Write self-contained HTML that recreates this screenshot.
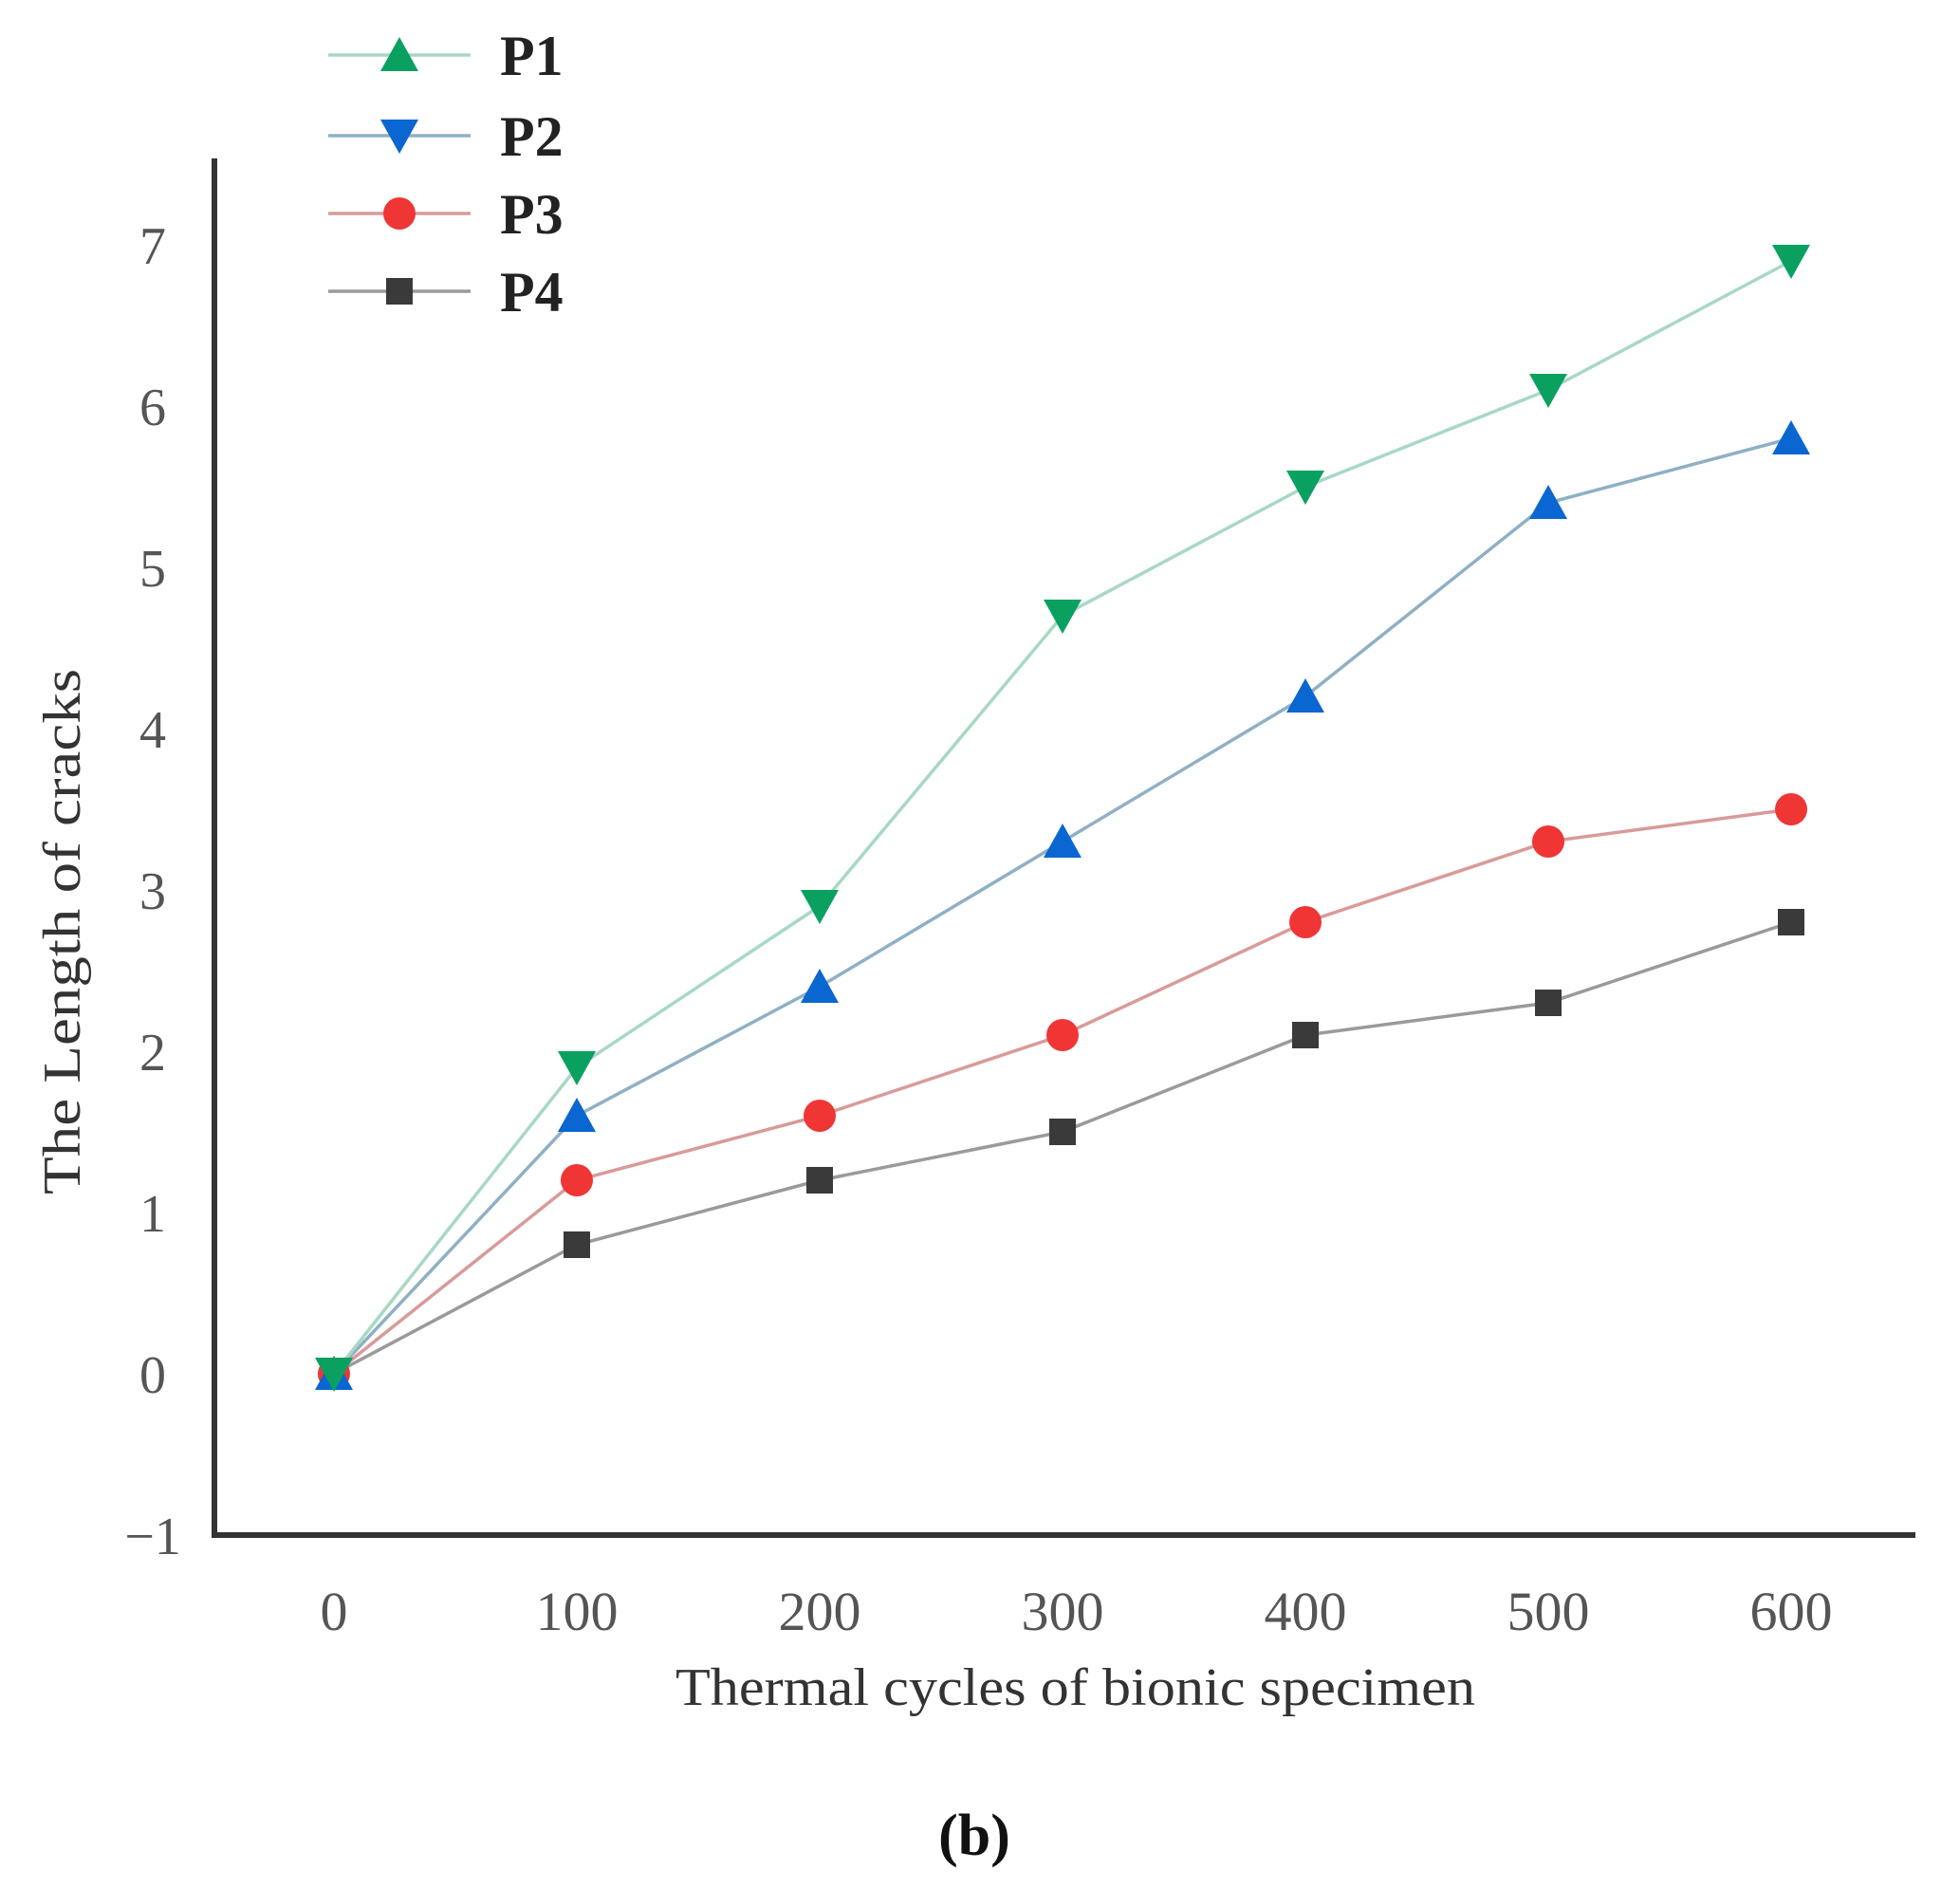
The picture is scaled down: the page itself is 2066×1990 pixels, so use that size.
<!DOCTYPE html>
<html><head><meta charset="utf-8"><style>
html,body{margin:0;padding:0;background:#fff;}
svg{display:block;}
text{font-family:"Liberation Serif",serif;}
</style></head><body>
<svg id="chart" width="2066" height="1990" viewBox="0 0 2066 1990" xmlns="http://www.w3.org/2000/svg">
<g id="axes"></g>
<g id="series"></g>
<g id="legend"></g>
<text x="712" y="1797" textLength="843" lengthAdjust="spacingAndGlyphs" font-size="56" fill="#333">Thermal cycles of bionic specimen</text>
<text transform="translate(84,982) rotate(-90)" x="0" y="0" text-anchor="middle" textLength="554" lengthAdjust="spacingAndGlyphs" font-size="56" fill="#333">The Length of cracks</text>
<text x="1027" y="1955" text-anchor="middle" font-size="62" font-weight="bold" fill="#111">(b)</text>
</svg>
<script>
const categories = [0, 100, 200, 300, 400, 500, 600];
const p1Values = [0, 1.9, 2.9, 4.7, 5.5, 6.1, 6.9];
const p2Values = [0, 1.6, 2.4, 3.3, 4.2, 5.4, 5.8];
const p3Values = [0, 1.2, 1.6, 2.1, 2.8, 3.3, 3.5];
const p4Values = [0, 0.8, 1.2, 1.5, 2.1, 2.3, 2.8];
const yTicks = [-1, 0, 1, 2, 3, 4, 5, 6, 7];
const xTicks = [0, 100, 200, 300, 400, 500, 600];
const seriesNames = ["P1", "P2", "P3", "P4"];

const NS = "http://www.w3.org/2000/svg";
function xs(v){ return 352 + v * 2.56; }
function ys(v){ return 1448 - v * 170; }
function mk(tag, attrs, parent){
  const e = document.createElementNS(NS, tag);
  for (const k in attrs) e.setAttribute(k, attrs[k]);
  parent.appendChild(e);
  return e;
}
const axes = document.getElementById('axes');
const seriesG = document.getElementById('series');
const legend = document.getElementById('legend');

let ax = mk('line', {x1:226, y1:167, x2:226, y2:1620, stroke:'#333', 'stroke-width':6}, axes);


let bx = mk('line', {x1:223, y1:1618, x2:2019, y2:1618, stroke:'#333', 'stroke-width':6}, axes);



yTicks.forEach(t => {
  const tx = mk('text', {x:161, y:ys(t) + 20, 'text-anchor':'middle', 'font-size':56, fill:'#555'}, axes);
  tx.textContent = t < 0 ? '\u2212' + Math.abs(t) : String(t);
  
  
});
xTicks.forEach(t => {
  const tx = mk('text', {x:xs(t), y:1718, 'text-anchor':'middle', 'font-size':58, fill:'#555'}, axes);
  tx.textContent = String(t);
  
  
});

function marker(type, cx, cy, color, parent, s){
  let e;
  if (type === 'down') e = mk('polygon', {points:`${cx-s},${cy-s*0.85} ${cx+s},${cy-s*0.85} ${cx},${cy+s*0.95}`, fill:color}, parent);
  else if (type === 'up') e = mk('polygon', {points:`${cx-s},${cy+s*0.85} ${cx+s},${cy+s*0.85} ${cx},${cy-s*0.95}`, fill:color}, parent);
  else if (type === 'circle') e = mk('circle', {cx:cx, cy:cy, r:s*0.85, fill:color}, parent);
  else e = mk('rect', {x:cx-s*0.7, y:cy-s*0.7, width:s*1.4, height:s*1.4, fill:color}, parent);
  return e;
}

const specs = [
  {vals:p1Values, line:'#a8d8c4', color:'#0aa160', type:'down', legendType:'up'},
  {vals:p2Values, line:'#8fb0c4', color:'#0a66d0', type:'up', legendType:'down'},
  {vals:p3Values, line:'#d99a9a', color:'#f03535', type:'circle', legendType:'circle'},
  {vals:p4Values, line:'#9a9a9a', color:'#3a3a3a', type:'square', legendType:'square'}
];
[3,2,1,0].forEach(i => {
  const sp = specs[i];
  const pts = sp.vals.map((v, j) => xs(categories[j]) + ',' + ys(v)).join(' ');
  const pl = mk('polyline', {points:pts, fill:'none', stroke:sp.line, 'stroke-width':3.5}, seriesG);
  
  
});
[3,2,1,0].forEach(i => {
  const sp = specs[i];
  sp.vals.forEach((v, j) => {
    const m = marker(sp.type, xs(categories[j]), ys(v), sp.color, seriesG, 20);
    
    
  });
});

const legendY = [58, 143, 225, 307];
specs.forEach((sp, i) => {
  const g = mk('g', {}, legend);
  
  
  mk('line', {x1:346, y1:legendY[i], x2:496, y2:legendY[i], stroke:sp.line, 'stroke-width':3.5}, g);
  marker(sp.legendType, 421, legendY[i], sp.color, g, 20);
  const t = mk('text', {x:527, y:legendY[i] + 21, 'font-size':60, 'font-weight':'bold', fill:'#222'}, g);
  t.textContent = seriesNames[i];
});
</script>
</body></html>
